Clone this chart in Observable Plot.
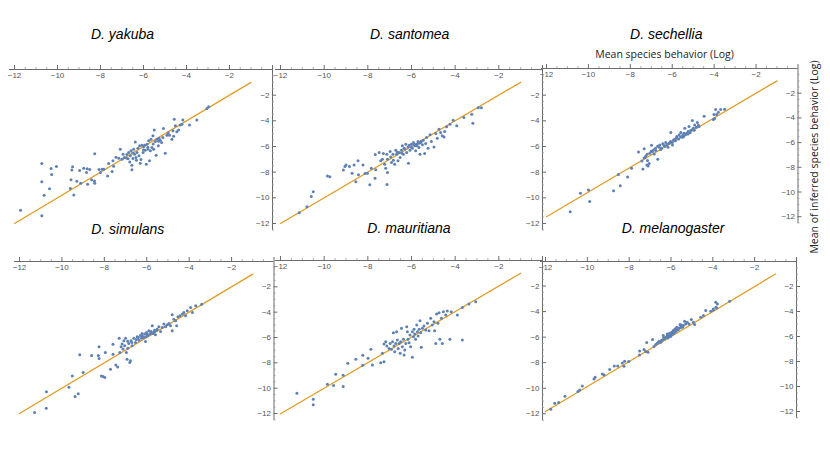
<!DOCTYPE html>
<html><head><meta charset="utf-8">
<script src="https://cdn.jsdelivr.net/npm/d3@7"></script>
<script src="https://cdn.jsdelivr.net/npm/@observablehq/plot@0.6"></script>
<style>
body{margin:0;background:#fff;}
#wrap{position:relative;width:830px;height:467px;overflow:hidden;font-family:"Liberation Sans",Arial,sans-serif;}
.panel{position:absolute;}
.panel svg{overflow:visible;}
.title{position:absolute;font-style:italic;font-size:14px;line-height:1;transform:translate(-50%,-50%);white-space:nowrap;color:#000;}
.axlab{position:absolute;font-family:"Open Sans",sans-serif;font-size:10.5px;line-height:1;white-space:nowrap;color:#222;}
</style></head><body><div id="wrap"></div>
<script>
// ---- data: [mean species behavior (log), mean of inferred species behavior (log)] ----
const yakuba = [[-11.72,-10.96],[-10.73,-11.4],[-10.73,-7.32],[-10.73,-8.75],[-10.62,-9.79],[-10.37,-9.3],[-10.3,-7.71],[-10.27,-8.18],[-10.05,-7.56],[-9.4,-9.27],[-9.37,-8.6],[-9.33,-7.84],[-9.3,-7.58],[-9.24,-9.77],[-9.1,-8.7],[-8.97,-7.87],[-8.92,-8.86],[-8.78,-7.69],[-8.65,-8.03],[-8.62,-7.74],[-8.6,-8.94],[-8.5,-7.79],[-8.41,-8.6],[-8.28,-8.68],[-8.27,-8.86],[-8.27,-6.57],[-8.07,-7.79],[-8.0,-8.03],[-7.93,-7.77],[-7.85,-7.77],
[-7.67,-8.29],[-7.46,-7.95],[-7.62,-7.33],[-7.39,-7.54],[-7.42,-7.12],[-7.28,-6.83],[-7.15,-6.91],[-7.08,-6.21],[-7.0,-6.99],[-6.89,-6.86],[-6.8,-6.89],[-6.77,-6.63],[-6.69,-6.47],[-6.64,-7.2],[-6.61,-6.73],[-6.58,-6.34],[-6.54,-7.46],[-6.54,-7.82],[-6.49,-6.94],[-6.46,-6.21],[-6.41,-6.6],[-6.38,-5.64],[-6.33,-7.07],[-6.3,-6.47],[-6.26,-6.13],[-6.21,-6.73],[-6.18,-5.95],[-6.15,-7.3],[-6.12,-7.02],[-6.07,-5.9],[-6.02,-6.47],[-5.99,-6.0],[-5.92,-6.29],[-5.87,-7.38],[-5.84,-5.82],[-5.79,-6.21],[-5.76,-5.56],[-5.72,-7.12],[-5.68,-6.34],[-5.65,-5.43],[-5.61,-6.08],[-5.56,-5.17],[-5.53,-6.21],[-5.5,-4.71],[-5.45,-5.61],[-5.41,-6.68],[-5.37,-5.43],[-5.31,-5.95],[-5.28,-5.35],[-5.22,-5.51],[-5.16,-5.69],[-5.07,-4.6],[-4.99,-6.52],[-4.91,-5.12],[-4.79,-5.12],[-4.68,-5.43],[-4.63,-4.78],[-4.57,-3.87],[-4.52,-4.39],[-4.45,-4.86],[-4.37,-4.71],[-4.29,-4.32],[-4.21,-4.26],[-4.17,-3.93],[-3.86,-4.32],[-3.52,-3.93],[-3.05,-3.04],[-2.97,-2.91],
[-6.95,-6.6],[-6.72,-6.95],[-6.5,-6.5],[-6.35,-6.85],[-6.0,-6.25],[-5.95,-5.9],[-5.8,-6.05],[-5.55,-5.8],[-5.3,-5.6],[-5.1,-5.3],[-4.85,-4.95],[-4.6,-5.2]];

const santomea = [[-11.14,-11.17],[-10.79,-10.7],[-10.59,-9.9],[-10.5,-9.53],[-9.85,-8.29],[-9.74,-8.36],[-9.12,-7.84],[-9.05,-7.56],[-9.0,-7.45],[-8.84,-7.56],[-8.72,-8.08],[-8.63,-7.45],[-8.55,-8.75],[-8.45,-7.12],[-8.43,-8.21],[-8.22,-7.45],[-8.13,-8.1],[-8.02,-8.08],[-7.91,-8.99],[-7.84,-7.69],[-7.67,-8.47],[-7.64,-7.82],[-7.66,-6.62],[-7.48,-6.47],[-7.12,-8.96],[-7.1,-8.03],[-6.14,-7.3],[-3.19,-4.18],[-3.24,-3.48],[-3.6,-3.74],[-2.94,-2.99],[-2.8,-2.99],
[-7.29,-6.55],[-7.41,-7.12],[-7.33,-7.0],[-7.23,-7.38],[-7.13,-6.6],[-7.1,-6.99],[-7.18,-7.69],[-6.98,-6.39],[-6.95,-6.81],[-6.92,-7.25],[-6.83,-7.07],[-6.77,-7.38],[-6.72,-6.29],[-6.68,-6.6],[-6.62,-7.12],[-6.57,-6.47],[-6.52,-6.86],[-6.46,-6.29],[-6.42,-5.95],[-6.37,-6.6],[-6.34,-6.13],[-6.26,-5.82],[-6.22,-6.47],[-6.16,-6.03],[-6.07,-6.29],[-6.01,-5.82],[-5.96,-6.13],[-5.91,-5.69],[-5.85,-5.95],[-5.81,-6.34],[-5.76,-5.82],[-5.7,-5.61],[-5.66,-6.08],[-5.61,-6.6],[-5.58,-5.69],[-5.5,-5.87],[-5.46,-5.51],[-5.4,-6.55],[-5.35,-5.77],[-5.31,-5.3],[-5.24,-6.13],[-5.15,-5.09],[-5.09,-5.61],[-4.97,-6.03],[-4.89,-4.99],[-4.82,-5.35],[-4.74,-4.65],[-4.67,-4.91],[-4.59,-5.17],[-4.51,-5.25],[-4.48,-4.83],[-4.39,-4.47],[-4.24,-4.26],[-4.09,-3.95],[-3.93,-4.39],
[-6.3,-6.2],[-6.1,-5.9],[-6.0,-6.05],[-5.88,-5.8],[-5.75,-5.95],[-5.65,-5.75],[-5.55,-5.6],[-6.45,-6.5],[-6.65,-6.45],[-6.85,-6.6]];

const sechellia = [[-10.87,-11.59],[-10.38,-10.11],[-10.0,-9.84],[-9.94,-10.78],[-8.8,-9.89],[-8.57,-8.59],[-8.48,-9.49],[-8.13,-8.78],[-7.94,-8.08],[-7.61,-6.76],[-7.4,-8.14],[-7.34,-6.49],[-7.34,-7.24],[-7.26,-7.08],[-7.21,-7.81],[-7.18,-7.46],[-7.1,-7.7],[-7.07,-6.86],[-6.99,-6.22],[-6.94,-6.73],[-6.86,-6.92],[-6.78,-6.65],[-6.69,-7.35],[-6.62,-6.38],[-6.51,-6.46],[-6.39,-6.24],[-6.31,-6.0],[-6.2,-6.38],[-6.15,-6.05],[-6.07,-5.92],[-6.07,-5.19],[-5.99,-6.19],[-5.94,-5.78],[-5.88,-5.73],[-5.78,-5.51],[-5.67,-5.38],[-5.59,-5.19],[-5.51,-5.57],[-5.44,-5.24],[-5.4,-4.84],[-5.31,-5.24],[-5.24,-5.11],[-5.2,-4.7],[-5.12,-5.03],[-5.04,-4.22],[-4.99,-4.84],[-4.93,-4.57],[-4.8,-4.38],[-4.72,-4.7],[-4.48,-3.86],[-4.04,-4.14],[-4.01,-3.73],[-3.98,-4.05],[-3.88,-3.73],[-3.8,-3.54],[-3.69,-3.32],[-3.5,-3.3],[-3.93,-3.32],
[-6.45,-6.1],[-6.35,-6.3],[-6.25,-6.15],[-6.1,-5.95],[-6.0,-6.0],[-5.85,-5.85],[-5.8,-5.6],[-5.7,-5.7],[-5.6,-5.55],[-5.5,-5.4],[-5.45,-5.5],[-5.35,-5.35],[-5.25,-5.3],[-5.15,-5.2],[-5.05,-4.95],[-4.95,-5.0],[-4.85,-4.75],[-4.75,-4.6],[-6.6,-6.2],[-6.7,-6.3],[-6.8,-6.45],[-6.9,-6.6],[-7.0,-6.7],[-7.2,-6.95],[-7.3,-7.2],[-7.45,-7.5],[-7.15,-7.9],[-6.55,-6.55]];

const simulans = [[-11.29,-11.92],[-10.73,-10.29],[-10.74,-11.58],[-9.67,-9.92],[-9.51,-9.03],[-9.38,-10.66],[-9.23,-10.45],[-9.16,-7.37],[-9.0,-8.76],[-8.6,-7.42],[-8.28,-7.42],[-8.25,-7.66],[-8.25,-6.74],[-8.14,-9.03],[-8.06,-9.08],[-7.98,-9.16],[-7.95,-7.18],[-7.71,-8.5],[-7.59,-7.32],[-7.59,-6.53],[-7.46,-8.18],[-7.37,-8.32],[-7.3,-6.05],
[-7.27,-7.18],[-7.21,-6.73],[-7.16,-6.52],[-7.12,-6.9],[-7.08,-6.26],[-7.04,-6.66],[-7.0,-6.05],[-6.96,-7.18],[-6.93,-7.71],[-6.89,-6.84],[-6.85,-6.47],[-6.8,-7.97],[-6.77,-7.84],[-6.74,-6.26],[-6.69,-6.66],[-6.61,-6.05],[-6.53,-6.39],[-6.45,-5.94],[-6.37,-6.21],[-6.3,-5.84],[-6.25,-6.05],[-6.22,-5.68],[-6.14,-6.0],[-6.1,-5.73],[-6.06,-6.31],[-6.01,-5.6],[-5.95,-5.86],[-5.9,-5.47],[-5.85,-5.73],[-5.79,-5.52],[-5.74,-5.08],[-5.7,-5.68],[-5.63,-5.42],[-5.59,-5.79],[-5.51,-5.34],[-5.43,-5.15],[-5.35,-5.52],[-5.27,-5.21],[-5.19,-4.94],[-5.11,-5.15],[-5.03,-5.0],[-4.95,-4.89],[-4.88,-5.08],[-4.8,-5.47],[-4.8,-4.21],[-4.72,-4.55],[-4.64,-4.68],[-4.59,-5.08],[-4.53,-4.37],[-4.43,-4.29],[-4.32,-4.15],[-4.25,-4.02],[-4.17,-4.29],[-4.09,-3.89],[-3.93,-3.63],[-3.85,-4.02],[-3.69,-3.5],[-3.41,-3.37],
[-6.5,-6.15],[-6.4,-6.0],[-6.2,-5.9],[-6.05,-5.95],[-5.98,-5.75],[-5.8,-5.65],[-5.65,-5.55],[-5.55,-5.45],[-6.7,-6.4],[-6.9,-6.3]];

const mauritiana = [[-11.25,-10.39],[-10.5,-10.86],[-10.5,-11.3],[-9.85,-9.69],[-9.57,-9.79],[-9.47,-8.91],[-9.13,-8.98],[-9.13,-9.87],[-8.92,-8.05],[-8.55,-7.73],[-8.23,-8.2],[-8.23,-7.42],
[-7.99,-7.66],[-7.86,-6.95],[-7.79,-8.18],[-7.41,-8.0],[-7.26,-7.92],[-7.33,-7.27],[-7.26,-6.54],[-7.18,-6.36],[-7.13,-6.69],[-7.03,-6.88],[-6.98,-6.49],[-6.92,-6.95],[-6.87,-6.36],[-6.83,-5.65],[-6.8,-6.69],[-6.77,-7.14],[-6.72,-6.49],[-6.68,-5.57],[-6.65,-6.23],[-6.61,-6.88],[-6.57,-6.49],[-6.52,-7.27],[-6.49,-6.36],[-6.46,-5.31],[-6.42,-6.75],[-6.37,-6.17],[-6.34,-7.4],[-6.31,-7.0],[-6.26,-6.49],[-6.22,-5.18],[-6.19,-5.57],[-6.16,-6.17],[-6.11,-6.43],[-6.07,-5.83],[-6.04,-6.75],[-5.96,-7.58],[-5.96,-5.57],[-5.91,-5.96],[-5.88,-5.39],[-5.85,-5.76],[-5.81,-6.17],[-5.76,-5.05],[-5.73,-5.57],[-5.7,-5.91],[-5.65,-5.39],[-5.61,-4.71],[-5.58,-5.65],[-5.55,-6.8],[-5.5,-5.31],[-5.43,-5.13],[-5.35,-5.44],[-5.27,-4.92],[-5.2,-5.5],[-5.12,-4.53],[-5.05,-5.05],[-4.97,-4.79],[-4.94,-5.5],[-4.89,-6.49],[-4.85,-4.19],[-4.79,-4.92],[-4.74,-4.09],[-4.7,-6.17],[-4.63,-4.53],[-4.59,-6.49],[-4.54,-4.01],[-4.43,-4.27],[-4.36,-3.96],[-4.24,-6.17],[-4.18,-4.01],[-3.9,-4.27],[-3.67,-6.23],[-3.67,-3.67],[-3.37,-3.41],[-3.06,-3.23]];

const melanogaster = [[-11.75,-11.81],[-11.56,-11.33],[-11.37,-11.28],[-11.07,-10.77],[-10.45,-10.4],[-10.37,-10.27],[-10.24,-9.95],[-9.68,-9.39],[-9.63,-9.25],[-9.28,-8.99],[-9.2,-9.07],[-8.93,-8.64],[-8.71,-8.35],[-8.55,-8.35],[-8.33,-8.11],[-8.25,-8.37],[-8.22,-7.97],[-8.02,-8.0],[-7.51,-7.47],[-7.5,-7.15],[-7.29,-7.04],[-7.21,-7.2],[-7.16,-6.48],[-7.1,-7.25],[-6.88,-6.24],[-6.81,-6.8],[-6.73,-6.64],[-6.65,-6.53],[-6.57,-6.37],[-6.49,-6.45],[-6.41,-6.27],[-6.37,-5.92],[-6.3,-6.19],[-6.25,-6.05],[-6.18,-5.79],[-6.14,-6.11],[-6.1,-5.92],[-6.05,-5.73],[-6.02,-6.0],[-5.97,-5.65],[-5.94,-5.84],[-5.89,-5.52],[-5.86,-5.73],[-5.81,-5.39],[-5.78,-5.6],[-5.73,-5.25],[-5.7,-5.47],[-5.62,-5.31],[-5.57,-5.04],[-5.51,-5.2],[-5.41,-5.12],[-5.35,-4.77],[-5.3,-4.99],[-5.22,-4.85],[-5.14,-4.99],[-5.03,-4.64],[-4.93,-4.85],[-4.87,-5.04],[-4.58,-4.45],[-4.45,-4.32],[-4.34,-3.92],[-4.1,-3.97],[-3.98,-3.79],[-3.85,-3.65],[-3.78,-3.39],[-3.82,-3.71],[-3.98,-3.87],[-3.2,-3.17],[-3.86,-3.25],
[-6.2,-6.0],[-6.0,-5.85],[-5.9,-5.65],[-5.8,-5.55],[-5.65,-5.45],[-5.55,-5.3],[-5.45,-5.25],[-6.35,-6.1],[-6.45,-6.3],[-6.6,-6.45],[-6.1,-5.8],[-5.95,-5.75],[-5.75,-5.4],[-5.5,-5.1],[-5.85,-5.5],[-6.15,-5.95]];

const species = ["D. yakuba","D. santomea","D. sechellia","D. simulans","D. mauritiana","D. melanogaster"];
const seriesList = [yakuba, santomea, sechellia, simulans, mauritiana, melanogaster];
const xMajor = [-12,-10,-8,-6,-4,-2];
const yMajor = [-2,-4,-6,-8,-10,-12];
const identityLine = [-12,-1];
const xLabel = "Mean species behavior (Log)";
const yLabel = "Mean of inferred species behavior (Log)";

// ---- layout (pixel positions of x=-12, x=0, y=0, y=-12 and title centres) ----
const layout = [
  {left:14,  right:272, top:68.5, bottom:222.5, tx:122.5, ty:34},
  {left:280, right:542, top:68.5, bottom:222.5, tx:409.7, ty:34},
  {left:545.5, right:797, top:68.3, bottom:216.5, tx:666.3, ty:34},
  {left:18.5, right:273, top:260.5, bottom:412.5, tx:127.8, ty:228.5},
  {left:280, right:542, top:260.3, bottom:413.6, tx:409, ty:228},
  {left:545, right:796, top:261, bottom:411, tx:673, ty:228}
];

const wrap = document.getElementById("wrap");
const mL=14, mR=8, mT=8, mB=12;
const fmt = d => "\u2212" + Math.abs(d);
const xMinor = d3.range(-12, 0, 0.5).filter(v => Math.abs(v % 2) > 1e-9);
const yMinor = d3.range(-12.5, 0, 0.5).filter(v => Math.abs(v % 2) > 1e-9);
const axisColor = "#6b6b6b";

layout.forEach((p, i) => {
  const w = p.right - p.left, h = p.bottom - p.top;
  const ux = w / 12, uy = h / 12;
  const chart = Plot.plot({
    width: w + mL + mR, height: h + mT + mB,
    marginLeft: mL, marginRight: mR, marginTop: mT, marginBottom: mB,
    x: {domain: [-12, 0], axis: null},
    y: {domain: [-12, 0], axis: null},
    style: {background: "transparent", overflow: "visible", fontFamily: "'Liberation Sans', Arial, sans-serif"},
    marks: [
      Plot.ruleY([0], {x1: -12 - 5 / ux, x2: 0, stroke: axisColor, strokeWidth: 1}),
      Plot.ruleX([0], {y1: -12 - 7 / uy, y2: 4 / uy, stroke: axisColor, strokeWidth: 1}),
      Plot.ruleX(xMajor, {x: d => d, y1: 0, y2: 4 / uy, stroke: axisColor, strokeWidth: 1}),
      Plot.ruleX(xMinor, {x: d => d, y1: 0, y2: 2 / uy, stroke: "#9a9a9a", strokeWidth: 0.8}),
      Plot.ruleY(yMajor, {y: d => d, x1: 0, x2: 4 / ux, stroke: axisColor, strokeWidth: 1}),
      Plot.ruleY(yMinor, {y: d => d, x1: 0, x2: 2 / ux, stroke: "#9a9a9a", strokeWidth: 0.8}),
      Plot.text(xMajor, {x: d => d, y: 0, text: fmt, dy: 6, fontSize: 8, fill: "#555"}),
      Plot.text(yMajor, {x: 0, y: d => d, text: fmt, dx: -3, textAnchor: "end", fontSize: 8, fill: "#555"}),
      Plot.line(identityLine, {x: d => d, y: d => d, stroke: "#E19C24", strokeWidth: 1.3}),
      Plot.dot(seriesList[i], {x: d => d[0], y: d => d[1], r: 1.5, fill: "#5E81B5", stroke: null})
    ]
  });
  const div = document.createElement("div");
  div.className = "panel";
  div.style.left = (p.left - mL) + "px";
  div.style.top = (p.top - mT) + "px";
  div.appendChild(chart);
  wrap.appendChild(div);

  const t = document.createElement("div");
  t.className = "title";
  t.textContent = species[i];
  t.style.left = p.tx + "px";
  t.style.top = p.ty + "px";
  wrap.appendChild(t);
});

const xl = document.createElement("div");
xl.className = "axlab";
xl.textContent = xLabel;
xl.style.left = "664.5px"; xl.style.top = "54px";
xl.style.transform = "translate(-50%,-50%)";
wrap.appendChild(xl);

const yl = document.createElement("div");
yl.className = "axlab";
yl.textContent = yLabel;
yl.style.left = "814px"; yl.style.top = "156.5px";
yl.style.transform = "translate(-50%,-50%) rotate(-90deg)";
wrap.appendChild(yl);
</script></body></html>
